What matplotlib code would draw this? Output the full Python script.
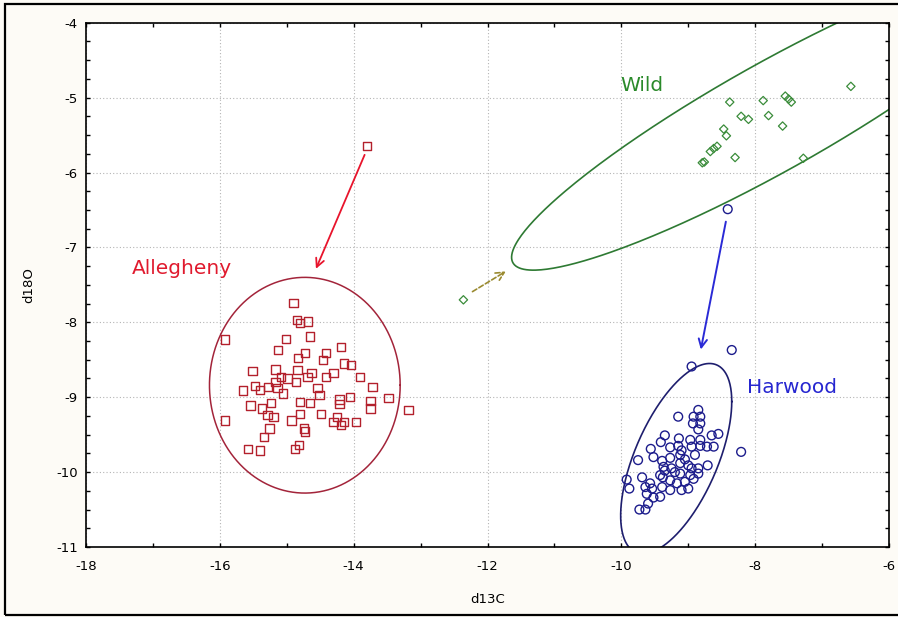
import numpy as np
import matplotlib
matplotlib.use("Agg")
import matplotlib.pyplot as plt
from matplotlib.patches import Rectangle
from matplotlib.ticker import MultipleLocator

plt.rcParams['font.family'] = ['DejaVu Sans']
plt.rcParams['axes.unicode_minus'] = False

# group points (d13C, d18O)
allegheny_pts = [
    (-14.90, -7.74), (-14.85, -7.97), (-14.80, -8.01), (-14.68, -7.99), (-15.92, -8.23),
    (-15.01, -8.22), (-14.65, -8.19), (-14.19, -8.33), (-15.13, -8.37), (-14.41, -8.41),
    (-14.73, -8.41), (-14.83, -8.48), (-14.46, -8.50), (-14.14, -8.55), (-14.04, -8.57),
    (-15.51, -8.65), (-15.17, -8.63), (-14.84, -8.64), (-14.63, -8.68), (-14.30, -8.68),
    (-13.91, -8.73), (-15.09, -8.73), (-14.99, -8.75), (-14.86, -8.80), (-14.69, -8.73),
    (-14.41, -8.73), (-15.17, -8.80), (-15.47, -8.85), (-15.65, -8.91), (-15.40, -8.90),
    (-15.28, -8.86), (-15.14, -8.88), (-15.06, -8.95), (-14.54, -8.88), (-14.51, -8.97),
    (-13.72, -8.86), (-14.05, -9.00), (-14.21, -9.03), (-14.21, -9.09), (-13.48, -9.01),
    (-13.75, -9.05), (-13.75, -9.15), (-15.54, -9.11), (-15.24, -9.08), (-14.80, -9.06),
    (-14.65, -9.08), (-13.18, -9.17), (-15.37, -9.15), (-15.29, -9.24), (-15.20, -9.26),
    (-14.80, -9.22), (-14.49, -9.22), (-14.25, -9.26), (-15.92, -9.31), (-14.93, -9.31),
    (-14.30, -9.33), (-14.14, -9.33), (-14.19, -9.37), (-13.97, -9.33), (-15.26, -9.42),
    (-14.74, -9.42), (-14.73, -9.46), (-15.34, -9.53), (-15.58, -9.69), (-15.40, -9.71),
    (-14.88, -9.69), (-14.82, -9.64), (-13.80, -5.65),
]

harwood_pts = [
    (-9.15, -9.26), (-8.85, -9.17), (-8.92, -9.26), (-8.82, -9.26), (-8.93, -9.35),
    (-8.82, -9.35), (-8.85, -9.43), (-9.35, -9.51), (-9.14, -9.55), (-8.97, -9.57),
    (-8.82, -9.57), (-8.65, -9.51), (-8.55, -9.49), (-9.41, -9.60), (-9.15, -9.65),
    (-9.56, -9.69), (-9.27, -9.67), (-9.10, -9.71), (-8.95, -9.66), (-8.82, -9.65),
    (-8.72, -9.66), (-8.62, -9.66), (-9.75, -9.84), (-9.52, -9.80), (-9.39, -9.85),
    (-9.27, -9.81), (-9.12, -9.77), (-9.05, -9.83), (-8.90, -9.77), (-9.35, -9.98),
    (-9.25, -9.95), (-9.12, -9.88), (-9.00, -9.91), (-8.95, -9.95), (-8.85, -9.95),
    (-8.71, -9.91), (-9.42, -10.04), (-9.12, -10.02), (-8.97, -10.04), (-8.85, -10.02),
    (-9.92, -10.10), (-9.69, -10.07), (-9.57, -10.15), (-9.38, -10.07), (-9.27, -10.11),
    (-9.17, -10.15), (-9.05, -10.13), (-8.92, -10.09), (-9.88, -10.22), (-9.64, -10.20),
    (-9.54, -10.22), (-9.39, -10.20), (-9.27, -10.24), (-9.10, -10.24), (-9.00, -10.22),
    (-9.62, -10.29), (-9.52, -10.34), (-9.42, -10.33), (-9.60, -10.42), (-9.73, -10.50),
    (-9.64, -10.50), (-9.37, -9.93), (-9.20, -10.00), (-8.95, -8.59), (-8.35, -8.37),
    (-8.21, -9.73), (-8.41, -6.49),
]

wild_pts = [
    (-6.57, -4.85), (-8.38, -5.06), (-7.88, -5.04), (-7.55, -4.98), (-7.50, -5.02),
    (-7.46, -5.06), (-8.21, -5.25), (-8.10, -5.29), (-7.80, -5.24), (-7.59, -5.38),
    (-8.47, -5.42), (-8.43, -5.51), (-8.62, -5.68), (-8.67, -5.72), (-8.57, -5.65),
    (-8.76, -5.86), (-8.79, -5.87), (-8.30, -5.80), (-7.28, -5.81), (-12.36, -7.70),
]

# ellipses: centre x, centre y, half x-extent, slope of chord midline, half vertical chord
allegheny_ell = (-14.73, -8.84, 1.425, 0.0, 1.44)
harwood_ell = (-9.18, -9.82, 0.83, 0.918, 1.016)
wild_ell = (-7.74, -5.26, 3.90, 0.48, 0.82)

# arrows: (start, end)
allegheny_arrow = ((-13.82, -5.73), (-14.58, -7.32))
harwood_arrow = ((-8.43, -6.62), (-8.82, -8.40))
wild_arrow = ((-12.26, -7.61), (-11.69, -7.30))


def ellipse_xy(cx, cy, rx, slope, h):
    t = np.linspace(0, 2 * np.pi, 400)
    return cx + rx * np.cos(t), cy + slope * rx * np.cos(t) + h * np.sin(t)


fig = plt.figure(figsize=(8.98, 6.17), dpi=100, facecolor='#fdfbf6')
ax = fig.add_axes([86 / 898, 70 / 617, 803 / 898, 524.3 / 617])
ax.set_facecolor('white')

# outer frame (runs off the right edge as in the original screenshot)
fig.patches.append(Rectangle((5 / 898, 2 / 617), 1.05, 611 / 617, transform=fig.transFigure,
                             fill=False, edgecolor='black', linewidth=1.6))

ax.set_xlim(-18, -6)
ax.set_ylim(-11, -4)
ax.xaxis.set_major_locator(MultipleLocator(2))
ax.xaxis.set_minor_locator(MultipleLocator(1))
ax.yaxis.set_major_locator(MultipleLocator(1))
ax.yaxis.set_minor_locator(MultipleLocator(0.25))
ax.grid(True, which='major', linestyle=(0, (1, 2)), color='#b4b4b4', linewidth=0.8)
ax.set_axisbelow(True)
ax.tick_params(which='both', direction='in', top=True, right=True, length=3,
               width=1.0, labelsize=9.5, colors='black')
ax.tick_params(axis='x', pad=9)
ax.tick_params(axis='y', pad=6)
for s in ax.spines.values():
    s.set_linewidth(1.2)

ax.set_xlabel('d13C', fontsize=9.5, labelpad=15)
ax.set_ylabel('d18O', fontsize=9.5, labelpad=15)

# ellipses
ex, ey = ellipse_xy(*allegheny_ell)
ax.plot(ex, ey, color='#a3243a', linewidth=1.1)
ex, ey = ellipse_xy(*harwood_ell)
ax.plot(ex, ey, color='#1e1e6e', linewidth=1.2)
ex, ey = ellipse_xy(*wild_ell)
ax.plot(ex, ey, color='#2e7a33', linewidth=1.2)

# points
a = np.array(allegheny_pts)
h = np.array(harwood_pts)
w = np.array(wild_pts)
ax.scatter(a[:, 0], a[:, 1], marker='s', s=36, facecolors='none',
           edgecolors='#b3202c', linewidths=1.0, zorder=3)
ax.scatter(h[:, 0], h[:, 1], marker='o', s=40, facecolors='none',
           edgecolors='#1c1c8c', linewidths=1.0, zorder=3)
ax.scatter(w[:, 0], w[:, 1], marker='D', s=18, facecolors='none',
           edgecolors='#3a8c3a', linewidths=0.9, zorder=3)

# arrows
ax.annotate('', xy=allegheny_arrow[1], xytext=allegheny_arrow[0],
            arrowprops=dict(arrowstyle='->,head_length=0.6,head_width=0.3',
                            color='#e8142c', linewidth=1.3))
ax.annotate('', xy=harwood_arrow[1], xytext=harwood_arrow[0],
            arrowprops=dict(arrowstyle='->,head_length=0.6,head_width=0.3',
                            color='#2a2ad6', linewidth=1.4))
ax.annotate('', xy=wild_arrow[1], xytext=wild_arrow[0],
            arrowprops=dict(arrowstyle='->,head_length=0.6,head_width=0.3',
                            color='#9a8a30', linewidth=1.2, linestyle=(0, (3, 1.5))))

# group labels
ax.text(-17.32, -7.35, 'Allegheny', color='#e01a2e', fontsize=14.5, ha='left', va='baseline')
ax.text(-10.02, -4.91, 'Wild', color='#2a8a2a', fontsize=14.5, ha='left', va='baseline')
ax.text(-8.12, -8.95, 'Harwood', color='#2626d0', fontsize=14.5, ha='left', va='baseline')

fig.savefig('out.png', dpi=100, facecolor=fig.get_facecolor())
